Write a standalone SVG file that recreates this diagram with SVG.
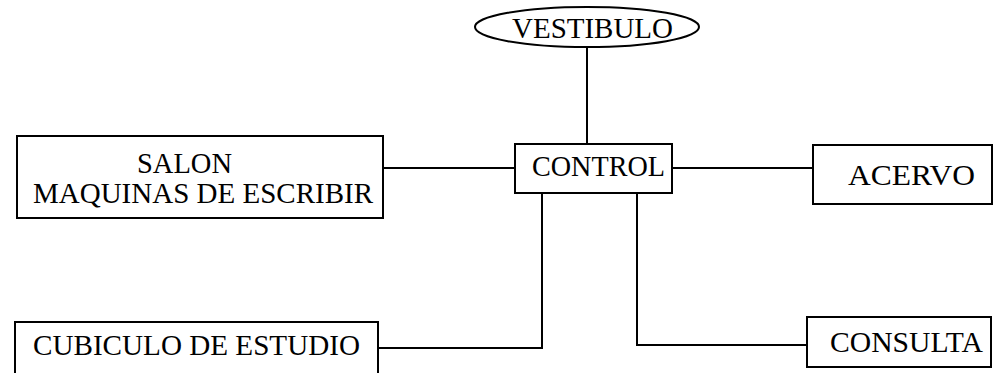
<svg xmlns="http://www.w3.org/2000/svg" width="1001" height="373" viewBox="0 0 1001 373">
<style>
.box{fill:#fff;stroke:#000;stroke-width:2}
.ln{fill:none;stroke:#000;stroke-width:2}
.t{font-family:'Liberation Serif','Times New Roman',serif;font-size:28.5px;fill:#000}
</style>
<rect width="1001" height="373" fill="#fff"/>
<g id="connectors">
<path class="ln" d="M587,47 V144"/>
<path class="ln" d="M383,168 H515"/>
<path class="ln" d="M672,168 H813"/>
<path class="ln" d="M542,193 V348 H378"/>
<path class="ln" d="M637,193 V345 H807"/>
</g>
<g id="vestibulo">
<ellipse class="box" cx="587" cy="27" rx="112" ry="20"/>
<text class="t" x="512" y="38" textLength="161" lengthAdjust="spacingAndGlyphs">VESTIBULO</text>
</g>
<g id="control">
<rect class="box" x="515" y="144" width="157" height="49"/>
<text class="t" x="532" y="176" textLength="133" lengthAdjust="spacingAndGlyphs">CONTROL</text>
</g>
<g id="salon">
<rect class="box" x="17" y="136" width="366" height="82"/>
<text class="t" x="137" y="173" textLength="95" lengthAdjust="spacingAndGlyphs">SALON</text>
<text class="t" x="33" y="203" textLength="340" lengthAdjust="spacingAndGlyphs">MAQUINAS DE ESCRIBIR</text>
</g>
<g id="acervo">
<rect class="box" x="813" y="145" width="179" height="59"/>
<text class="t" x="848" y="185" textLength="127" lengthAdjust="spacingAndGlyphs">ACERVO</text>
</g>
<g id="cubiculo">
<rect class="box" x="15" y="322" width="363" height="60"/>
<text class="t" x="33" y="355" textLength="327" lengthAdjust="spacingAndGlyphs">CUBICULO DE ESTUDIO</text>
</g>
<g id="consulta">
<rect class="box" x="807" y="317" width="184" height="50"/>
<text class="t" x="830" y="352" textLength="153" lengthAdjust="spacingAndGlyphs">CONSULTA</text>
</g>
</svg>
